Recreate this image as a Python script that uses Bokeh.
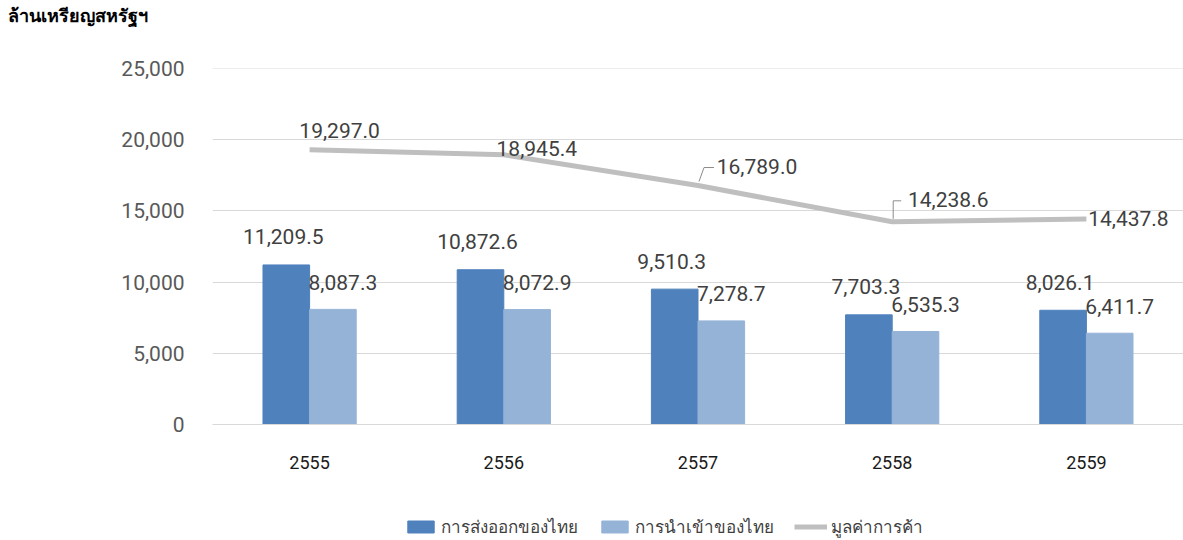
from bokeh.plotting import figure
from bokeh.layouts import column
from bokeh.models import ColumnDataSource, Range1d, FactorRange, Legend, LegendItem, FixedTicker, NumeralTickFormatter, Div
from bokeh.transform import dodge
from bokeh.core.properties import value
from bokeh.embed import file_html
from bokeh.resources import INLINE

years = ["2555", "2556", "2557", "2558", "2559"]
exports = [11209.5, 10872.6, 9510.3, 7703.3, 8026.1]
imports = [8087.3, 8072.9, 7278.7, 6535.3, 6411.7]
trade = [19297.0, 18945.4, 16789.0, 14238.6, 14437.8]
y_ticks = [0, 5000, 10000, 15000, 20000, 25000]

series_names = ["การส่งออกของไทย", "การนำเข้าของไทย", "มูลค่าการค้า"]
y_title = "ล้านเหรียญสหรัฐฯ"

# label offsets (screen px) for the trade line labels
trade_dx = [30, 33, 59, 56, 42]
trade_dy = [-19, -6, -19, -22, 0]

C_EXP = "#4F81BD"
C_IMP = "#95B3D7"
C_LINE = "#BFBFBF"
NUM_FONT = "Roboto"

W = 1183
HEAD = 36
H = 490 - HEAD
LB, TB, BB = 212, 68 - HEAD, 66
frame_w = W - LB
frame_h = H - TB - BB
ymax = y_ticks[-1] + 10
cat_px = frame_w / len(years)
ux = 1.0 / cat_px          # category units per px
uy = ymax / frame_h        # data units per px

src = ColumnDataSource(dict(
    year=years, exports=exports, imports=imports, trade=trade,
    exp_lbl=[f"{v:,.1f}" for v in exports],
    imp_lbl=[f"{v:,.1f}" for v in imports],
    trade_lbl=[f"{v:,.1f}" for v in trade],
    tdx=trade_dx, tdy=trade_dy,
))

head = Div(text=y_title, width=W, height=HEAD, margin=(0, 0, 0, 0),
           styles={"font-family": "'Noto Sans', sans-serif", "font-size": "18px",
                   "font-weight": "bold", "color": "#000000",
                   "text-indent": "8px", "line-height": "30px"})

p = figure(width=W, height=H, x_range=FactorRange(*years), y_range=Range1d(0, ymax),
           output_backend="svg", toolbar_location=None,
           min_border_left=LB, min_border_top=TB, min_border_bottom=BB, min_border_right=0)
p.outline_line_color = None
p.xgrid.grid_line_color = None
p.ygrid.grid_line_color = "#D9D9D9"
p.ygrid.grid_line_width = 1
p.yaxis.ticker = FixedTicker(ticks=y_ticks)
p.yaxis.formatter = NumeralTickFormatter(format="0,0")
for ax in (p.xaxis, p.yaxis):
    ax.major_tick_line_color = None
    ax.minor_tick_line_color = None
p.yaxis.axis_line_color = None
p.xaxis.axis_line_color = "#D9D9D9"
p.yaxis.major_label_standoff = 22
p.yaxis.major_label_text_font = NUM_FONT
p.yaxis.major_label_text_font_size = "21px"
p.yaxis.major_label_text_color = "#595959"
p.xaxis.major_label_standoff = 25
p.xaxis.major_label_text_font = NUM_FONT
p.xaxis.major_label_text_font_size = "18px"
p.xaxis.major_label_text_color = "#1A1A1A"

r_exp = p.vbar(x=dodge("year", -0.12, range=p.x_range), top="exports", width=0.24,
               source=src, fill_color=C_EXP, line_color=C_EXP)
r_imp = p.vbar(x=dodge("year", 0.12, range=p.x_range), top="imports", width=0.24,
               source=src, fill_color=C_IMP, line_color=C_IMP)
r_line = p.line(x="year", y="trade", source=src, line_color=C_LINE, line_width=5)

p.text(x=dodge("year", -0.12, range=p.x_range), y="exports", text="exp_lbl", source=src,
       text_align="center", text_baseline="middle", x_offset=-3, y_offset=-28,
       text_font=value(NUM_FONT), text_font_size="21px", text_color="#404040")
p.text(x=dodge("year", 0.12, range=p.x_range), y="imports", text="imp_lbl", source=src,
       text_align="center", text_baseline="middle", x_offset=10, y_offset=-27,
       text_font=value(NUM_FONT), text_font_size="21px", text_color="#404040")
p.text(x="year", y="trade", text="trade_lbl", source=src,
       text_align="center", text_baseline="middle", x_offset="tdx", y_offset="tdy",
       text_font=value(NUM_FONT), text_font_size="21px", text_color="#404040")

# leader lines for 2557 and 2558 labels (screen-pixel offsets from the point)
def leader(i, pts):
    for k in range(len(pts) - 1):
        s = ColumnDataSource(dict(year=[years[i]],
                                  v0=[trade[i] + pts[k][1] * uy],
                                  v1=[trade[i] + pts[k + 1][1] * uy]))
        p.segment(x0=dodge("year", pts[k][0] * ux, range=p.x_range), y0="v0",
                  x1=dodge("year", pts[k + 1][0] * ux, range=p.x_range), y1="v1",
                  source=s, line_color="#8C8C8C", line_width=1)

leader(2, [(1, 4), (6, 18), (16, 18)])
leader(3, [(1, 3), (1, 21), (9, 21)])

# legend strip below the chart (its renderers sit outside the visible range)
lg = figure(width=W, height=50, x_range=Range1d(0, 1), y_range=Range1d(0, 1),
            output_backend="svg", toolbar_location=None, min_border=0)
lg.axis.visible = False
lg.grid.visible = False
lg.outline_line_color = None
hidden = ColumnDataSource(dict(x=[5, 6], y=[5, 6]))
g_exp = lg.vbar(x="x", top="y", width=0.1, source=hidden, fill_color=C_EXP, line_color=C_EXP)
g_imp = lg.vbar(x="x", top="y", width=0.1, source=hidden, fill_color=C_IMP, line_color=C_IMP)
g_line = lg.line(x="x", y="y", source=hidden, line_color=C_LINE, line_width=5)

legend = Legend(items=[
    LegendItem(label=series_names[0], renderers=[g_exp]),
    LegendItem(label=series_names[1], renderers=[g_imp]),
    LegendItem(label=series_names[2], renderers=[g_line]),
], orientation="horizontal", location=(192, 0))
legend.background_fill_alpha = 0
legend.border_line_color = None
legend.padding = 0
legend.margin = 0
legend.label_text_font = "Noto Sans"
legend.label_text_font_size = "17px"
legend.label_text_color = "#404040"
legend.glyph_width = 33
legend.glyph_height = 15
legend.spacing = 20
legend.label_standoff = 4
lg.add_layout(legend, "center")

page = column(head, p, lg, spacing=0)
open("out.html", "w").write(file_html(page, INLINE))
